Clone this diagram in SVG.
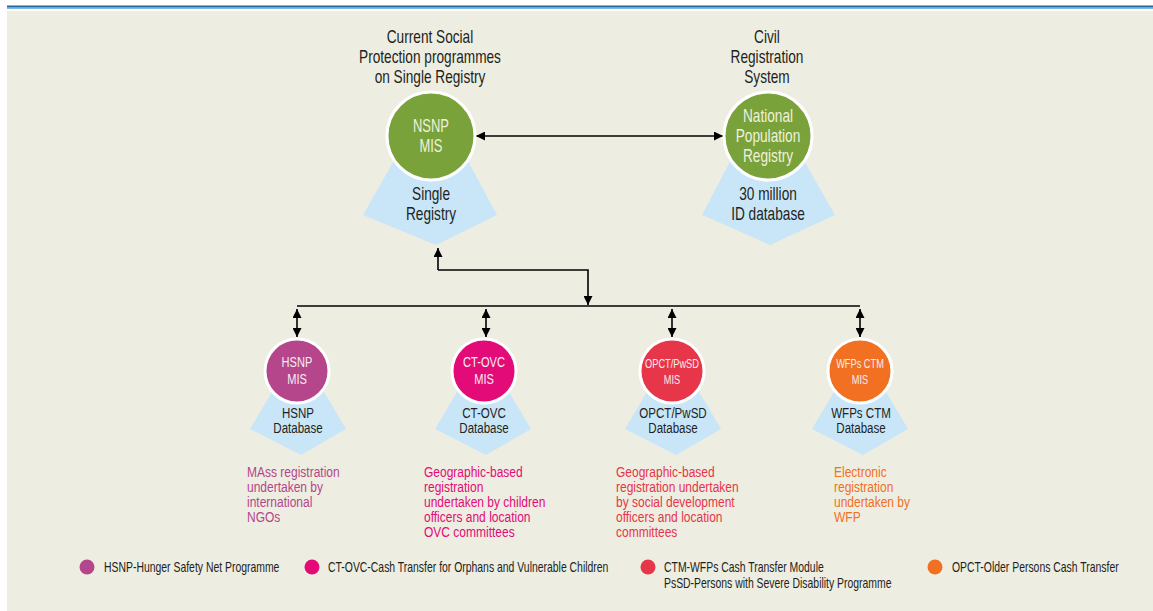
<svg xmlns="http://www.w3.org/2000/svg" width="1153" height="611" viewBox="0 0 1153 611">
<defs>
<style>
text{font-family:"Liberation Sans",Arial,sans-serif;}
.hdr{font-size:17.5px;fill:#231f20;text-anchor:middle;}
.ctr{text-anchor:middle;}
.big{font-size:18px;fill:#eef1dc;}
.db{font-size:18px;fill:#231f20;}
.mis{font-size:15px;fill:#f7ecf2;}
.mis2{font-size:12.5px;fill:#f7ecf2;}
.dbs{font-size:15px;fill:#231f20;}
.desc{font-size:15px;}
.leg{font-size:14px;fill:#231f20;}
.pent{fill:#c9e6f8;}
.ring{stroke:#ffffff;stroke-width:3;}
.con{fill:none;stroke:#000;stroke-width:1.6;}
</style>
<marker id="ah" viewBox="0 0 10 10" refX="10" refY="5" markerWidth="9" markerHeight="9" markerUnits="userSpaceOnUse" orient="auto-start-reverse">
<path d="M0,0 L10,5 L0,10 z" fill="#000"/>
</marker>
</defs>
<rect x="0" y="0" width="1153" height="611" fill="#ffffff"/>
<rect x="7" y="5.5" width="1146" height="2" fill="#1f6aa3"/>
<rect x="7" y="7.5" width="1146" height="1.2" fill="#4a9bd1"/>
<rect x="7" y="11" width="1146" height="600" fill="#eeede1"/>

<g id="connectors">
<path class="con" d="M476,136 L723,136" marker-start="url(#ah)" marker-end="url(#ah)"/>
<path class="con" d="M438,270 L438,248" marker-end="url(#ah)"/>
<path class="con" d="M438,270 L588,270 L588,305" marker-end="url(#ah)"/>
<path class="con" d="M297,306 L860,306"/>
<path class="con" d="M297,309 L297,337" marker-start="url(#ah)" marker-end="url(#ah)"/>
<path class="con" d="M486,309 L486,337" marker-start="url(#ah)" marker-end="url(#ah)"/>
<path class="con" d="M672,309 L672,337" marker-start="url(#ah)" marker-end="url(#ah)"/>
<path class="con" d="M860,309 L860,337" marker-start="url(#ah)" marker-end="url(#ah)"/>
</g>

<g id="header-left">
<text class="hdr" transform="translate(430 43) scale(.78 1)">Current Social</text>
<text class="hdr" transform="translate(430 63) scale(.78 1)">Protection programmes</text>
<text class="hdr" transform="translate(430 83) scale(.78 1)">on Single Registry</text>
</g>
<g id="header-right">
<text class="hdr" transform="translate(767 43) scale(.78 1)">Civil</text>
<text class="hdr" transform="translate(767 63) scale(.78 1)">Registration</text>
<text class="hdr" transform="translate(767 83) scale(.78 1)">System</text>
</g>

<g id="nsnp">
<polygon class="pent" points="400,150 462,150 497,215 436,245 363,215"/>
<circle class="ring" cx="431" cy="136" r="44" fill="#7aa23a"/>
<text class="big ctr" transform="translate(431 132) scale(.72 1)">NSNP</text>
<text class="big ctr" transform="translate(431 152) scale(.72 1)">MIS</text>
<text class="db ctr" transform="translate(431 200) scale(.76 1)">Single</text>
<text class="db ctr" transform="translate(431 220) scale(.76 1)">Registry</text>
</g>

<g id="npr">
<polygon class="pent" points="736,150 798,150 835,215 770,245 702,215"/>
<circle class="ring" cx="768" cy="136" r="44" fill="#7aa23a"/>
<text class="big ctr" transform="translate(768 122) scale(.76 1)">National</text>
<text class="big ctr" transform="translate(768 142) scale(.76 1)">Population</text>
<text class="big ctr" transform="translate(768 162) scale(.76 1)">Registry</text>
<text class="db ctr" transform="translate(768 200) scale(.76 1)">30 million</text>
<text class="db ctr" transform="translate(768 220) scale(.76 1)">ID database</text>
</g>

<g id="hsnp">
<polygon class="pent" points="276,385 320,385 346,429 301,455 250,429"/>
<circle class="ring" cx="297" cy="371" r="32" fill="#b5468b"/>
<text class="mis ctr" transform="translate(297 367) scale(.74 1)">HSNP</text>
<text class="mis ctr" transform="translate(297 384) scale(.74 1)">MIS</text>
<text class="dbs ctr" transform="translate(298 418) scale(.77 1)">HSNP</text>
<text class="dbs ctr" transform="translate(298 433) scale(.77 1)">Database</text>
<g class="desc" fill="#b5468b">
<text transform="translate(247 477) scale(.8 1)">MAss registration</text>
<text transform="translate(247 492) scale(.8 1)">undertaken by</text>
<text transform="translate(247 507) scale(.8 1)">international</text>
<text transform="translate(247 522) scale(.8 1)">NGOs</text>
</g>
</g>

<g id="ctovc">
<polygon class="pent" points="461,385 505,385 531,429 486,455 435,429"/>
<circle class="ring" cx="484" cy="371" r="32" fill="#e30b78"/>
<text class="mis ctr" transform="translate(484 367) scale(.74 1)">CT-OVC</text>
<text class="mis ctr" transform="translate(484 384) scale(.74 1)">MIS</text>
<text class="dbs ctr" transform="translate(484 418) scale(.77 1)">CT-OVC</text>
<text class="dbs ctr" transform="translate(484 433) scale(.77 1)">Database</text>
<g class="desc" fill="#e30b78">
<text transform="translate(424 477) scale(.8 1)">Geographic-based</text>
<text transform="translate(424 492) scale(.8 1)">registration</text>
<text transform="translate(424 507) scale(.8 1)">undertaken by children</text>
<text transform="translate(424 522) scale(.8 1)">officers and location</text>
<text transform="translate(424 537) scale(.8 1)">OVC committees</text>
</g>
</g>

<g id="opct">
<polygon class="pent" points="651,385 695,385 721,429 676,455 625,429"/>
<circle class="ring" cx="672" cy="371" r="32" fill="#e7354a"/>
<text class="mis2 ctr" transform="translate(672 368) scale(.74 1)">OPCT/PwSD</text>
<text class="mis2 ctr" transform="translate(672 384) scale(.74 1)">MIS</text>
<text class="dbs ctr" transform="translate(673 418) scale(.77 1)">OPCT/PwSD</text>
<text class="dbs ctr" transform="translate(673 433) scale(.77 1)">Database</text>
<g class="desc" fill="#e7354a">
<text transform="translate(616 477) scale(.8 1)">Geographic-based</text>
<text transform="translate(616 492) scale(.8 1)">registration undertaken</text>
<text transform="translate(616 507) scale(.8 1)">by social development</text>
<text transform="translate(616 522) scale(.8 1)">officers and location</text>
<text transform="translate(616 537) scale(.8 1)">committees</text>
</g>
</g>

<g id="wfps">
<polygon class="pent" points="838,385 882,385 908,429 863,455 812,429"/>
<circle class="ring" cx="860" cy="371" r="32" fill="#f17022"/>
<text class="mis2 ctr" transform="translate(860 368) scale(.74 1)">WFPs CTM</text>
<text class="mis2 ctr" transform="translate(860 384) scale(.74 1)">MIS</text>
<text class="dbs ctr" transform="translate(861 418) scale(.77 1)">WFPs CTM</text>
<text class="dbs ctr" transform="translate(861 433) scale(.77 1)">Database</text>
<g class="desc" fill="#f17022">
<text transform="translate(834 477) scale(.8 1)">Electronic</text>
<text transform="translate(834 492) scale(.8 1)">registration</text>
<text transform="translate(834 507) scale(.8 1)">undertaken by</text>
<text transform="translate(834 522) scale(.8 1)">WFP</text>
</g>
</g>

<g id="legend">
<circle cx="87" cy="567" r="7.5" fill="#b5468b"/>
<text class="leg" transform="translate(104 572) scale(.745 1)">HSNP-Hunger Safety Net Programme</text>
<circle cx="312" cy="567" r="7.5" fill="#e30b78"/>
<text class="leg" transform="translate(328 572) scale(.745 1)">CT-OVC-Cash Transfer for Orphans and Vulnerable Children</text>
<circle cx="648" cy="567" r="7.5" fill="#e7354a"/>
<text class="leg" transform="translate(664 572) scale(.745 1)">CTM-WFPs Cash Transfer Module</text>
<text class="leg" transform="translate(664 588) scale(.745 1)">PsSD-Persons with Severe Disability Programme</text>
<circle cx="935" cy="567" r="7.5" fill="#f17022"/>
<text class="leg" transform="translate(952 572) scale(.745 1)">OPCT-Older Persons Cash Transfer</text>
</g>
</svg>
